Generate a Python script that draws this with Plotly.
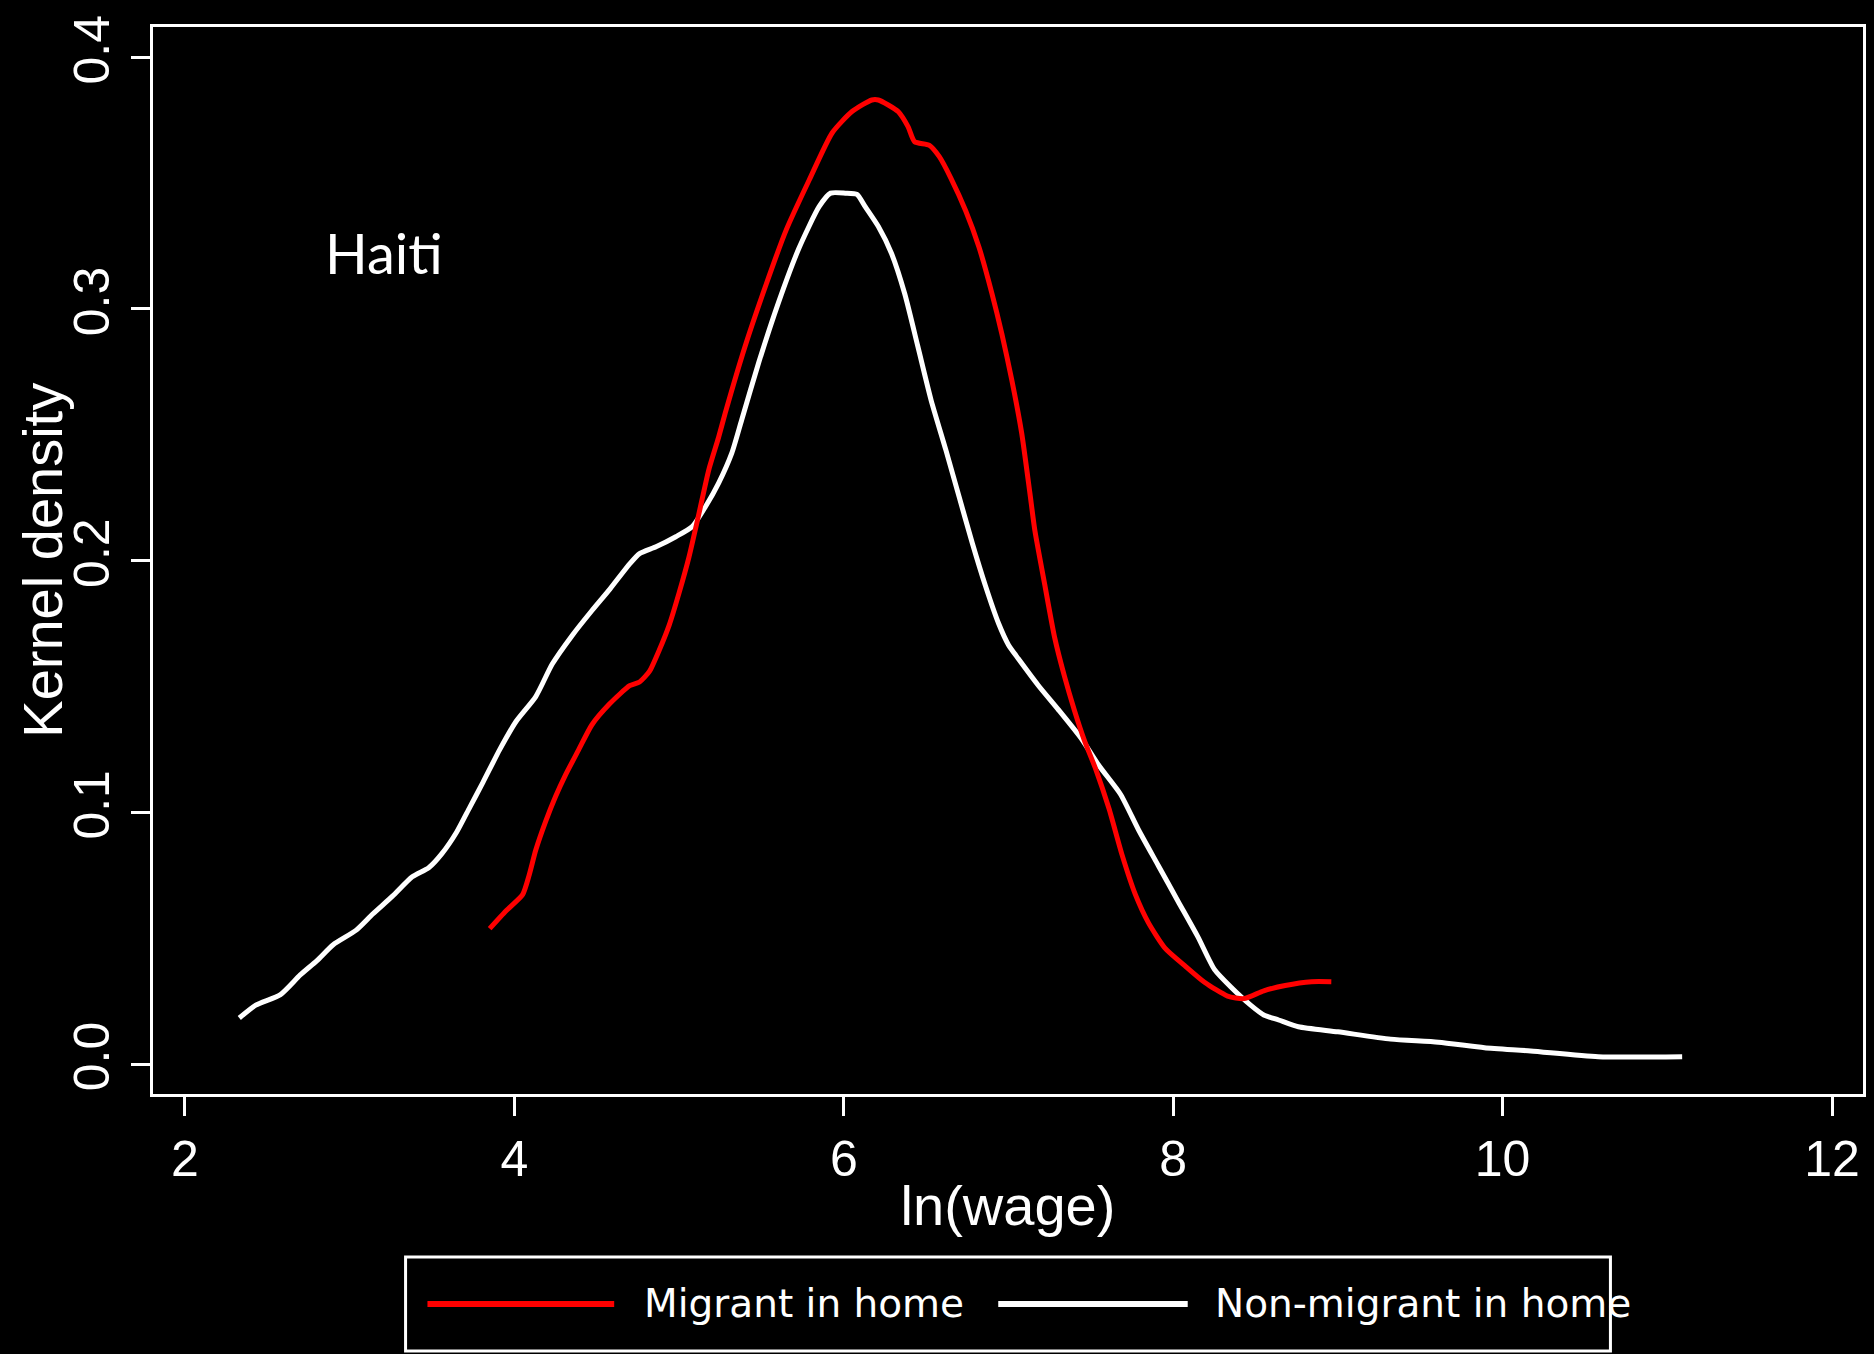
import plotly.graph_objects as go

# Non-migrant in home (white)
nonmig_x = [2.33, 2.43, 2.58, 2.70, 2.80, 2.90, 3.04, 3.14, 3.26, 3.38, 3.48, 3.56, 3.65, 3.73,
            3.81, 3.91, 4.01, 4.13, 4.23, 4.35, 4.47, 4.58, 4.70, 4.76, 4.86, 4.98, 5.08, 5.16,
            5.24, 5.32, 5.38, 5.485, 5.606, 5.727, 5.85, 5.92, 6.01, 6.08, 6.13, 6.21, 6.29, 6.37,
            6.45, 6.53, 6.62, 6.70, 6.78, 6.86, 6.94, 7.00, 7.06, 7.18, 7.30, 7.44, 7.55, 7.68,
            7.79, 7.91, 8.03, 8.15, 8.25, 8.35, 8.47, 8.55, 8.64, 8.76, 9.00, 9.32, 9.61, 9.89,
            10.17, 10.58, 11.09]
nonmig_y = [0.0183, 0.0234, 0.0276, 0.0354, 0.0410, 0.0474, 0.0532, 0.0596, 0.0667, 0.0744, 0.0780,
            0.0836, 0.0922, 0.1021, 0.1120, 0.1248, 0.1361, 0.1460, 0.1589, 0.1702, 0.1801, 0.1887,
            0.1987, 0.2028, 0.2055, 0.2095, 0.2135, 0.2214, 0.2308, 0.2427, 0.2559, 0.2790, 0.3030,
            0.3240, 0.3406, 0.3460, 0.3460, 0.3455, 0.3406, 0.3327, 0.3220, 0.3060, 0.2850, 0.2638,
            0.2439, 0.2254, 0.2070, 0.1900, 0.1750, 0.1665, 0.1610, 0.1505, 0.1410, 0.1295, 0.1185,
            0.1072, 0.0930, 0.0788, 0.0646, 0.0505, 0.0376, 0.0306, 0.0234, 0.0195, 0.0175, 0.0148,
            0.0128, 0.0099, 0.0087, 0.0065, 0.0052, 0.0029, 0.0029]

# Migrant in home (red)
mig_x = [3.85, 3.95, 4.05, 4.09, 4.13, 4.19, 4.25, 4.31, 4.39, 4.47, 4.58, 4.70, 4.76, 4.82, 4.88,
         4.94, 5.00, 5.06, 5.12, 5.18, 5.24, 5.28, 5.40, 5.53, 5.65, 5.79, 5.93, 6.05, 6.17, 6.21,
         6.27, 6.33, 6.39, 6.43, 6.52, 6.58, 6.65, 6.74, 6.82, 6.90, 6.96, 7.02, 7.08, 7.13, 7.16,
         7.22, 7.28, 7.34, 7.40, 7.46, 7.53, 7.61, 7.69, 7.77, 7.85, 7.95, 8.07, 8.19, 8.33, 8.43,
         8.55, 8.68, 8.84, 8.96]
mig_y = [0.0538, 0.0609, 0.0673, 0.0751, 0.0850, 0.0964, 0.1063, 0.1148, 0.1248, 0.1347, 0.1432,
         0.1503, 0.1518, 0.1560, 0.1645, 0.1744, 0.1872, 0.2014, 0.2185, 0.2360, 0.2490, 0.2586,
         0.2850, 0.3100, 0.3313, 0.3512, 0.3700, 0.3784, 0.3830, 0.3830, 0.3810, 0.3784, 0.3724,
         0.3664, 0.3650, 0.3605, 0.3520, 0.3390, 0.3247, 0.3060, 0.2900, 0.2718, 0.2507, 0.2268,
         0.2120, 0.1905, 0.1695, 0.1540, 0.1406, 0.1287, 0.1171, 0.1015, 0.0830, 0.0674, 0.0561,
         0.0461, 0.0391, 0.0325, 0.0270, 0.0260, 0.0291, 0.0312, 0.0327, 0.0327]

x_ticks = [2, 4, 6, 8, 10, 12]
y_ticks = [0.0, 0.1, 0.2, 0.3, 0.4]
y_tick_text = ["0.0", "0.1", "0.2", "0.3", "0.4"]
series_names = ["Migrant in home", "Non-migrant in home"]
series_colors = ["#ff0000", "#ffffff"]

fig = go.Figure()
fig.add_trace(go.Scatter(x=nonmig_x, y=nonmig_y, mode="lines", name=series_names[1],
                         line=dict(color=series_colors[1], width=5, shape="spline", smoothing=0.6)))
fig.add_trace(go.Scatter(x=mig_x, y=mig_y, mode="lines", name=series_names[0],
                         line=dict(color=series_colors[0], width=5, shape="spline", smoothing=0.6)))

tick_font = dict(family="Liberation Sans Narrow, Liberation Sans, Arial", size=50, color="white")
title_font = dict(family="Liberation Sans, Arial", size=56, color="white")

fig.update_layout(
    width=1874, height=1354,
    paper_bgcolor="black", plot_bgcolor="black",
    margin=dict(l=153, r=8, t=27, b=260),
    showlegend=False,
    xaxis=dict(range=[1.806, 12.188], tickvals=x_ticks, ticks="outside", ticklen=19, tickwidth=3,
               tickcolor="white", showline=True, linewidth=3, linecolor="white", mirror=True,
               showgrid=False, zeroline=False, tickfont=tick_font,
               title=dict(text="ln(wage)", font=title_font, standoff=0)),
    yaxis=dict(range=[-0.0119, 0.412], tickvals=y_ticks, ticktext=y_tick_text, tickangle=-90,
               ticks="outside", ticklen=19, tickwidth=3, tickcolor="white", showline=True,
               linewidth=3, linecolor="white", mirror=True, showgrid=False, zeroline=False,
               tickfont=tick_font, ticklabelstandoff=2),
)

# Y axis title (placed explicitly)
fig.add_annotation(text="Kernel density", xref="paper", yref="paper", x=-0.0648, y=0.5,
                   xanchor="center", yanchor="middle", textangle=-90, showarrow=False,
                   font=title_font)

# Country label
fig.add_annotation(text="Haiti", xref="paper", yref="paper", x=0.0992, y=0.789,
                   xanchor="left", yanchor="middle", showarrow=False,
                   font=dict(family="Lato, Open Sans, sans-serif", size=56, color="white"))

# Custom legend box
fig.add_shape(type="rect", xref="paper", yref="paper", x0=0.1477, x1=0.8523, y0=-0.2409, y1=-0.1528,
              line=dict(color="white", width=3), fillcolor="black")
leg_y = -0.1968
fig.add_shape(type="line", xref="paper", yref="paper", x0=0.1605, x1=0.2697, y0=leg_y, y1=leg_y,
              line=dict(color=series_colors[0], width=6))
fig.add_shape(type="line", xref="paper", yref="paper", x0=0.4943, x1=0.6051, y0=leg_y, y1=leg_y,
              line=dict(color=series_colors[1], width=6))
leg_font = dict(family="DejaVu Sans, sans-serif", size=39, color="white")
fig.add_annotation(text=series_names[0], xref="paper", yref="paper", x=0.286, y=leg_y,
                   xanchor="left", yanchor="middle", showarrow=False, font=leg_font)
fig.add_annotation(text=series_names[1], xref="paper", yref="paper", x=0.620, y=leg_y,
                   xanchor="left", yanchor="middle", showarrow=False, font=leg_font)

fig.write_html("out.html", config={"displayModeBar": False},
               post_script="document.body.style.margin='0';document.body.style.background='black';"
                           "document.body.style.overflow='hidden';")
